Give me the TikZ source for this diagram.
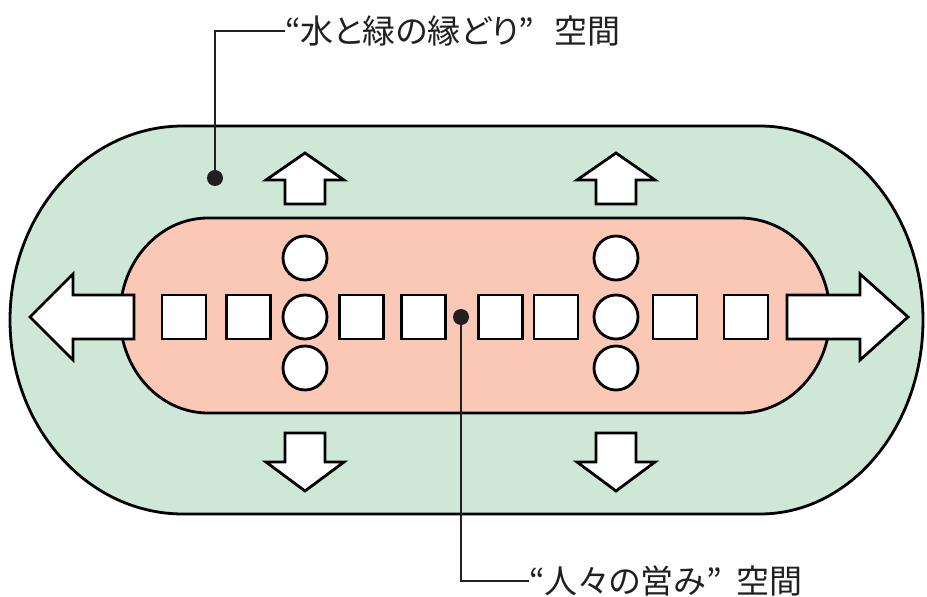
\documentclass[tikz,border=0pt]{standalone}
\usepackage{fontspec}
\newfontfamily\jpfont[RawFeature=+palt]{Noto Sans CJK JP}
\definecolor{edgegreen}{RGB}{206,231,214}
\definecolor{coresalmon}{RGB}{250,200,181}
\definecolor{inkblack}{RGB}{35,31,32}

\begin{document}
\begin{tikzpicture}[x=1pt, y=-1pt,
      zone/.style = {draw=black, line width=2.8pt, line join=round},
      green zone/.style = {zone, fill=edgegreen},
      core zone/.style = {zone, fill=coresalmon},
      block arrow/.style = {draw=black, fill=white, line width=2.8pt,
                            line join=miter},
      unit box/.style = {draw=black, fill=white, line width=2.8pt,
                         minimum size=44pt, inner sep=0pt},
      unit ring/.style = {unit box, circle},
      leader dot/.style = {circle, fill=inkblack, minimum size=16pt,
                           inner sep=0pt},
      leader/.style = {draw=inkblack, line width=1.4pt},
      caption/.style = {font=\jpfont\fontsize{33}{38}\selectfont,
                        text=inkblack, inner sep=0pt, anchor=west},
    ]
    \useasboundingbox (0,0) rectangle (927,597);

    %% Draw the green edge zone and the inner zone
    \path [green zone] (183,126) -- (760,126)
      arc [start angle=-90, end angle=90, x radius=163, y radius=194]
      -- (183,514)
      arc [start angle=90, end angle=270, x radius=173, y radius=194]
      -- cycle;
    \path [core zone] (208,218) -- (740,218)
      arc [start angle=-90, end angle=90, x radius=90, y radius=97.5]
      -- (208,413)
      arc [start angle=90, end angle=270, x radius=88, y radius=97.5]
      -- cycle;

    %% The two big arrows going sideways
    \path [block arrow] (134,295) -- (73,295) -- (73,274) -- (30,317)
      -- (73,360) -- (73,339) -- (134,339) -- cycle;
    \path [block arrow] (787,295) -- (860,295) -- (860,274) -- (908,317)
      -- (860,360) -- (860,339) -- (787,339) -- cycle;

    %% Small arrows up and down
    \foreach \cx in {305,616}{%
      \path [block arrow] ({\cx-20},204) -- ({\cx-20},180) -- ({\cx-39},180)
        -- (\cx,153) -- ({\cx+39},180) -- ({\cx+20},180) -- ({\cx+20},204)
        -- cycle;
      \path [block arrow] ({\cx-20},433) -- ({\cx-20},462) -- ({\cx-39},462)
        -- (\cx,491) -- ({\cx+39},462) -- ({\cx+20},462) -- ({\cx+20},433)
        -- cycle;
    }

    %% The row of units
    \foreach \x [count=\i] in {184,248.5,361.5,423.5,500.5,556,675,746}{%
      \node (unit\i) [unit box] at (\x,317) {};
    }
    \foreach \x/\c in {305/a,616/b}{%
      \foreach \y [count=\j] in {258,317,368}{%
        \node (ring\c\j) [unit ring] at (\x,\y) {};
      }
    }

    %% Labels with their leaders
    \node (edge_dot) [leader dot] at (215,178) {};
    \node (core_dot) [leader dot] at (461,317) {};
    \node (edge_label) [caption] at (285,31)
      {“水と緑の縁どり”\hspace{0.6em}空間};
    \node (core_label) [caption] at (529,581)
      {“人々の営み”\hspace{0.45em}空間};
    \draw [leader] (edge_dot.center) |- (edge_label.west);
    \draw [leader] (core_dot.center) |- (core_label.west);
  \end{tikzpicture}
\end{document}
